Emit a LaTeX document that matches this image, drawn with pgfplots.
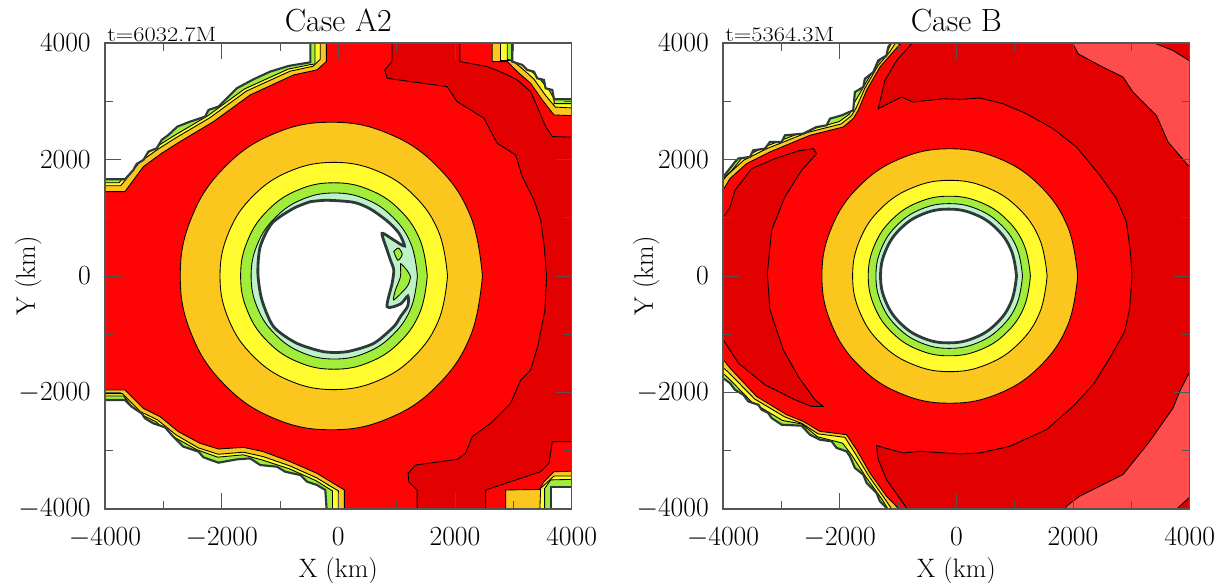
\documentclass[border=0pt]{standalone}
\usepackage{pgfplots}
\pgfplotsset{compat=1.18}
\definecolor{dred}{HTML}{E20000}
\definecolor{mred}{HTML}{FE0404}
\definecolor{pink}{HTML}{FF4D4D}
\definecolor{orng}{HTML}{FBC61E}
\definecolor{yell}{HTML}{FFFB2E}
\definecolor{grn}{HTML}{A2EC3A}
\definecolor{pale}{HTML}{BDF2C8}
\definecolor{dk}{HTML}{2E3A3A}
\definecolor{axc}{HTML}{555555}
\pgfplotsset{
 myax/.style={scale only axis,width=350pt,height=349.5pt,
  xmin=-4000,xmax=4000,ymin=-4000,ymax=4000,
  xtick={-4000,-2000,0,2000,4000},ytick={-4000,-2000,0,2000,4000},
  minor xtick={-3000,-1000,1000,3000},minor ytick={-3000,-1000,1000,3000},
  tick align=inside,major tick length=12pt,minor tick length=6pt,
  tick style={color=axc,line width=0.7pt},
  axis line style={color=axc,line width=0.8pt},
  axis on top,
  /pgf/number format/1000 sep={},
  tick label style={font=\fontsize{19.5}{21}\selectfont,inner sep=1pt},
  xticklabel style={yshift=-12.5pt},
  yticklabel style={xshift=-9.5pt},
  label style={font=\fontsize{20}{22}\selectfont},
  xlabel={X (km)},ylabel={Y (km)},
  xlabel style={at={(axis description cs:0.5,0)},anchor=north,yshift=-33pt},
  ylabel style={at={(axis description cs:0,0.5)},anchor=south,rotate=0,yshift=44pt},
  title style={font=\fontsize{24}{26}\selectfont,at={(axis description cs:0.5,1)},anchor=south,yshift=-1.5pt},
 },
 c/.style={draw=black,line width=0.65pt},
 o/.style={fill=orng,c},
 y/.style={fill=yell,c},
 g/.style={fill=grn,c},
 p/.style={fill=pale,c},
 r/.style={fill=dred,c},
 w/.style={fill=white,draw=dk,line width=1.6pt},
 h/.style={fill=white,draw=dk,line width=2.1pt},
}
\begin{document}
\begin{tikzpicture}
\path[use as bounding box] (-78.75pt,-54.75pt) rectangle (842.25pt,381.75pt);
%% ---------------- LEFT ----------------
\begin{axis}[myax,at={(0,0)},anchor=south west,title={Case A2}]
\addplot[fill=mred,draw=none] coordinates {(-4100,-4100)(4100,-4100)(4100,4100)(-4100,4100)} --cycle;
% darker red region
\addplot[r] coordinates {(921,4100)(921,3681)(795,3538)(835,3394)(1865,3251)(2037,2994)(2495,2708)(2724,2278)(3039,2078)(3153,1706)(3353,1306)(3468,962)(3530,500)(3570,0)(3540,-600)(3420,-1200)(3296,-1614)(3125,-1786)(2953,-2186)(2609,-2530)(2295,-2759)(2180,-3045)(2037,-3148)(1322,-3245)(1196,-3388)(1207,-3531)(1350,-3674)(1350,-4100)(2524,-4100)(2524,-3674)(3468,-3360)(3611,-3216)(3668,-2844)(4100,-2844)(4100,2382)(3668,2393)(3554,2565)(3410,2908)(3296,3166)(3067,3366)(2838,3480)(2552,3595)(2083,3681)(2083,4100)} --cycle;
% NW corner
\addplot[o] coordinates {(-4100,1449)(-3657,1449)(-3342,1878)(-3028,2107)(-2713,2307)(-2140,2650)(-1511,3108)(-767,3452)(-366,3538)(-206,3681)(-206,4100)(-4100,4100)} --cycle;
\addplot[y] coordinates {(-4100,1550)(-3730,1550)(-3410,1950)(-3095,2175)(-2780,2375)(-2205,2715)(-1575,3175)(-830,3515)(-435,3600)(-310,3720)(-310,4100)(-4100,4100)} --cycle;
\addplot[g] coordinates {(-4100,1600)(-3760,1600)(-3445,1985)(-3130,2210)(-2815,2410)(-2240,2750)(-1610,3210)(-865,3550)(-500,3625)(-400,3640)(-400,4100)(-4100,4100)} --cycle;
\addplot[w] coordinates {(-4100,1660)(-3657,1660)(-3514,1821)(-3457,1924)(-3342,1992)(-3256,2135)(-3113,2193)(-3028,2336)(-2913,2422)(-2759,2565)(-2541,2650)(-2284,2736)(-2226,2851)(-2055,2908)(-1883,3080)(-1740,3223)(-1454,3377)(-1168,3509)(-853,3606)(-480,3669)(-480,4100)(-4100,4100)} --cycle;
% NE corner
\addplot[o] coordinates {(2638,4100)(2638,3681)(2896,3681)(3067,3509)(3296,3309)(3496,3022)(3697,2765)(4100,2748)(4100,4100)} --cycle;
\addplot[y] coordinates {(2781,4100)(2781,3700)(2981,3700)(3153,3560)(3353,3380)(3553,3100)(3720,2900)(4100,2880)(4100,4100)} --cycle;
\addplot[g] coordinates {(2896,4100)(2896,3720)(3067,3680)(3225,3580)(3425,3420)(3620,3180)(3700,3040)(3700,2960)(4100,2960)(4100,4100)} --cycle;
\addplot[w] coordinates {(2981,4100)(2981,3681)(3153,3623)(3239,3538)(3353,3509)(3410,3394)(3525,3366)(3553,3223)(3668,3194)(3697,3034)(4100,3034)(4100,4100)} --cycle;
% SW corner
\addplot[o] coordinates {(-4100,-1957)(-3657,-1957)(-3514,-2100)(-3342,-2272)(-3056,-2415)(-2741,-2673)(-2369,-2873)(-2055,-2970)(-1625,-2942)(-1282,-3016)(-824,-3188)(-366,-3388)(103,-3674)(103,-4100)(-4100,-4100)} --cycle;
\addplot[y] coordinates {(-4100,-2020)(-3700,-2020)(-3560,-2160)(-3390,-2330)(-3100,-2470)(-2780,-2730)(-2400,-2950)(-2060,-3060)(-1625,-3025)(-1290,-3100)(-830,-3260)(-380,-3460)(0,-3690)(0,-4100)(-4100,-4100)} --cycle;
\addplot[g] coordinates {(-4100,-2060)(-3680,-2060)(-3580,-2190)(-3420,-2360)(-3130,-2500)(-2810,-2770)(-2430,-2980)(-2070,-3110)(-1630,-3070)(-1300,-3160)(-840,-3310)(-390,-3510)(-100,-3690)(-100,-4100)(-4100,-4100)} --cycle;
\addplot[w] coordinates {(-4100,-2129)(-3657,-2129)(-3543,-2244)(-3371,-2358)(-3314,-2444)(-3171,-2530)(-2970,-2598)(-2856,-2730)(-2656,-2930)(-2398,-3016)(-2312,-3113)(-2055,-3205)(-1740,-3148)(-1511,-3131)(-1339,-3245)(-1053,-3274)(-910,-3360)(-652,-3417)(-538,-3531)(-366,-3588)(-223,-3674)(-195,-4100)(-4100,-4100)} --cycle;
% SE corner
\addplot[o] coordinates {(2867,-4100)(2867,-3674)(3451,-3663)(3525,-3531)(3697,-3360)(4100,-3348)(4100,-4100)} --cycle;
\addplot[y] coordinates {(3451,-4100)(3468,-3646)(3697,-3434)(4100,-3434)(4100,-4100)} --cycle;
\addplot[g] coordinates {(3536,-4100)(3536,-3650)(3640,-3500)(4100,-3490)(4100,-4100)} --cycle;
\addplot[w] coordinates {(3651,-4100)(3651,-3617)(4100,-3617)(4100,-4100)} --cycle;
% rings
\addplot[o,smooth,tension=0.7] coordinates {(2470,0)(2273,1011)(1711,1866)(872,2439)(-120,2640)(-1112,2439)(-1951,1866)(-2513,1011)(-2710,0)(-2513,-1011)(-1951,-1866)(-1112,-2439)(-120,-2640)(872,-2439)(1711,-1866)(2273,-1011)(2470,0)};
\addplot[y,smooth,tension=0.7] coordinates {(1872,0)(1724,747)(1301,1379)(669,1802)(-78,1950)(-825,1802)(-1457,1379)(-1880,747)(-2028,0)(-1880,-747)(-1457,-1379)(-825,-1802)(-78,-1950)(669,-1802)(1301,-1379)(1724,-747)(1872,0)};
\addplot[g,smooth,tension=0.7] coordinates {(1525,0)(1403,613)(1056,1131)(538,1478)(-75,1600)(-688,1478)(-1206,1131)(-1553,613)(-1675,0)(-1553,-613)(-1206,-1131)(-688,-1478)(-75,-1600)(538,-1478)(1056,-1131)(1403,-613)(1525,0)};
\addplot[p,smooth,tension=0.7] coordinates {(1355,0)(1247,546)(937,1007)(476,1317)(-70,1425)(-616,1317)(-1077,1007)(-1387,546)(-1495,0)(-1387,-546)(-1077,-1007)(-616,-1317)(-70,-1425)(476,-1317)(937,-1007)(1247,-546)(1355,0)};
% green blobs inside the pale ring
\addplot[g,smooth] coordinates {(950,420)(1030,480)(1095,370)(1020,270)(950,420)};
\addplot[g,smooth,tension=0.4] coordinates {(1065,217)(1160,120)(1236,-12)(1179,-183)(950,-412)(979,-241)(1065,-12)(1065,217)};
% central hole
\addplot[h,smooth,tension=0.45] coordinates {(-480,1276)(-194,1300)(263,1265)(550,1150)(836,945)(1036,740)(1134,515)(950,618)(750,732)(836,446)(893,274)(950,103)(922,-126)(836,-527)(1065,-481)(1191,-344)(1191,-515)(1065,-698)(950,-870)(607,-1156)(149,-1299)(-252,-1299)(-722,-1150)(-1110,-870)(-1310,-412)(-1379,46)(-1339,503)(-1139,904)(-767,1162)(-480,1276)} --cycle;
\end{axis}
\node[anchor=south west,inner sep=0pt,font=\fontsize{15.5}{17}\selectfont] at (1.5pt,350.5pt) {\scalebox{1.18}[1]{t=6032.7M}};
%% ---------------- RIGHT ----------------
\begin{axis}[myax,at={(463.5pt,0)},anchor=south west,title={Case B}]
\addplot[fill=mred,draw=none] coordinates {(-4100,-4100)(4100,-4100)(4100,4100)(-4100,4100)} --cycle;
% main darker red region
\addplot[r] coordinates {(-768,4100)(-768,3986)(-1025,3700)(-1225,3357)(-1339,2872)(-940,3072)(-740,2986)(-226,3043)(60,3032)(403,3055)(802,2957)(1202,2786)(1659,2529)(2059,2215)(2458,1730)(2744,1330)(2915,930)(2984,416)(3012,17)(2972,-554)(2886,-954)(2630,-1410)(2344,-1867)(2001,-2238)(1545,-2638)(917,-2924)(403,-3038)(60,-3055)(-626,-3009)(-911,-3038)(-1368,-2912)(-1339,-3152)(-1197,-3495)(-854,-3980)(-740,-4100)(4100,-4100)(4100,4100)} --cycle;
% left lobe
\addplot[r] coordinates {(-4100,1045)(-3966,1045)(-3880,1187)(-3794,1473)(-3509,1844)(-3109,2015)(-2710,2147)(-2453,2187)(-2395,2101)(-2652,1815)(-2938,1359)(-3166,788)(-3240,45)(-3195,-583)(-2966,-1268)(-2710,-1725)(-2424,-2125)(-2281,-2239)(-2481,-2239)(-2767,-2125)(-3280,-1868)(-3737,-1496)(-3994,-1097)(-4100,-1050)} --cycle;
% pink
\addplot[fill=pink,c] coordinates {(2001,4100)(2001,3985)(2087,3814)(2458,3614)(2858,3414)(3029,3157)(3429,2758)(3629,2301)(3971,1901)(4100,1850)(4100,3650)(3988,3700)(3714,3871)(3429,3985)(3400,4100)} --cycle;
\addplot[fill=pink,c] coordinates {(4100,-1600)(3988,-1667)(3829,-1982)(3714,-2267)(3315,-2838)(2858,-3409)(2515,-3580)(2116,-3780)(1887,-3951)(1860,-4100)(3750,-4100)(3800,-3980)(3988,-3809)(4100,-3750)} --cycle;
% NW corner
\addplot[o] coordinates {(-4100,1400)(-4000,1473)(-3880,1673)(-3595,1930)(-3195,2130)(-2510,2415)(-1939,2558)(-1768,2701)(-1682,2844)(-1539,3186)(-1311,3586)(-1111,3814)(-860,4100)(-4100,4100)} --cycle;
\addplot[y] coordinates {(-4100,1520)(-3920,1740)(-3640,1990)(-3240,2190)(-2550,2465)(-1975,2610)(-1800,2750)(-1720,2880)(-1570,3220)(-1345,3610)(-1140,3850)(-980,4100)(-4100,4100)} --cycle;
\addplot[g] coordinates {(-4100,1590)(-3860,1800)(-3680,2020)(-3280,2220)(-2590,2490)(-2010,2650)(-1830,2780)(-1745,2980)(-1600,3230)(-1380,3610)(-1170,3880)(-1060,4100)(-4100,4100)} --cycle;
\addplot[w] coordinates {(-4100,1680)(-3995,1702)(-3795,1958)(-3738,2016)(-3538,2044)(-3481,2158)(-3281,2187)(-3195,2301)(-2995,2301)(-2938,2415)(-2624,2444)(-2396,2558)(-2224,2587)(-2167,2701)(-1967,2758)(-1768,2844)(-1739,3158)(-1596,3243)(-1568,3386)(-1425,3500)(-1339,3700)(-1197,3786)(-1168,3928)(-1054,4100)(-4100,4100)} --cycle;
% SW corner
\addplot[o] coordinates {(-4100,-1420)(-4000,-1428)(-3880,-1582)(-3424,-2067)(-2910,-2381)(-2624,-2496)(-2339,-2667)(-1882,-2724)(-1711,-2981)(-1482,-3381)(-1197,-3780)(-997,-3986)(-950,-4100)(-4100,-4100)} --cycle;
\addplot[y] coordinates {(-4100,-1490)(-3920,-1640)(-3460,-2110)(-2940,-2420)(-2650,-2530)(-2370,-2710)(-1910,-2770)(-1745,-3030)(-1510,-3420)(-1230,-3820)(-1040,-4100)(-4100,-4100)} --cycle;
\addplot[g] coordinates {(-4100,-1580)(-3900,-1760)(-3500,-2170)(-2980,-2480)(-2650,-2540)(-2380,-2760)(-1950,-2870)(-1790,-3080)(-1550,-3450)(-1270,-3840)(-1110,-4100)(-4100,-4100)} --cycle;
\addplot[w] coordinates {(-4100,-1700)(-4000,-1753)(-3880,-1839)(-3795,-1953)(-3652,-2039)(-3566,-2153)(-3395,-2210)(-3338,-2296)(-3224,-2353)(-3167,-2438)(-2995,-2553)(-2653,-2570)(-2510,-2724)(-2339,-2810)(-2139,-2838)(-2053,-2952)(-1882,-3010)(-1825,-3095)(-1739,-3295)(-1596,-3409)(-1539,-3552)(-1368,-3723)(-1311,-3866)(-1197,-3980)(-1197,-4100)(-4100,-4100)} --cycle;
% rings
\addplot[o,smooth,tension=0.7] coordinates {(2080,0)(1913,836)(1438,1544)(728,2018)(-112,2184)(-952,2018)(-1662,1544)(-2137,836)(-2304,0)(-2137,-836)(-1662,-1544)(-952,-2018)(-112,-2184)(728,-2018)(1438,-1544)(1913,-836)(2080,0)};
\addplot[y,smooth,tension=0.7] coordinates {(1556,0)(1429,629)(1068,1161)(527,1517)(-111,1642)(-749,1517)(-1290,1161)(-1651,629)(-1778,0)(-1651,-629)(-1290,-1161)(-749,-1517)(-111,-1642)(527,-1517)(1068,-1161)(1429,-629)(1556,0)};
\addplot[g,smooth,tension=0.7] coordinates {(1270,0)(1164,525)(863,969)(412,1266)(-120,1370)(-652,1266)(-1103,969)(-1404,525)(-1510,0)(-1404,-525)(-1103,-969)(-652,-1266)(-120,-1370)(412,-1266)(863,-969)(1164,-525)(1270,0)};
\addplot[p,smooth,tension=0.7] coordinates {(1134,0)(1039,476)(766,878)(359,1148)(-122,1242)(-603,1148)(-1010,878)(-1283,476)(-1378,0)(-1283,-476)(-1010,-878)(-603,-1148)(-122,-1242)(359,-1148)(766,-878)(1039,-476)(1134,0)};
\addplot[h,smooth,tension=0.7] coordinates {(1031,0)(942,440)(690,812)(312,1061)(-134,1148)(-580,1061)(-958,812)(-1210,440)(-1299,0)(-1210,-440)(-958,-812)(-580,-1061)(-134,-1148)(312,-1061)(690,-812)(942,-440)(1031,0)};
\end{axis}
\node[anchor=south west,inner sep=0pt,font=\fontsize{15.5}{17}\selectfont] at (465pt,350.5pt) {\scalebox{1.18}[1]{t=5364.3M}};
\end{tikzpicture}
\end{document}
